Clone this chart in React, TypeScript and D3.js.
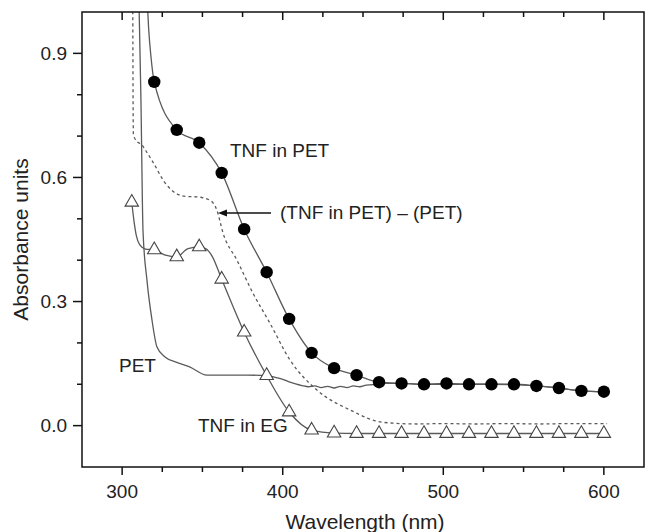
import React, { useEffect, useRef } from 'react';
import * as d3 from 'd3';

// marker wavelengths (nm)
const markerNm = [306, 320, 334, 348, 362, 376, 390, 404, 418, 432, 446, 460, 474, 488, 502, 516, 530, 544, 558, 572, 586, 600];

// TNF in PET (filled circles), starts at 320 nm
const tnfPetValues = [0.831, 0.715, 0.684, 0.611, 0.475, 0.371, 0.258, 0.176, 0.139, 0.122, 0.105, 0.102, 0.1, 0.102, 0.1, 0.1, 0.1, 0.096, 0.091, 0.084, 0.082];
// steep rise of the TNF in PET trace above the first marker
const tnfPetRise = [[315.2, 1.06], [316.5, 0.96], [318, 0.89]];

// TNF in EG (open triangles), starts at 306 nm
const tnfEgValues = [0.54, 0.425, 0.408, 0.432, 0.354, 0.226, 0.121, 0.033, -0.011, -0.018, -0.019, -0.019, -0.019, -0.019, -0.019, -0.019, -0.019, -0.019, -0.019, -0.019, -0.019, -0.019];
// extra trace points of the TNF in EG curve between markers
const tnfEgExtra = [[307.2, 0.5], [308.8, 0.46], [311, 0.437], [314.5, 0.427], [327, 0.412], [341, 0.428], [352, 0.428], [356, 0.41]];

// PET trace
const petTrace = [
  [310.3, 1.06], [311.7, 0.79], [313, 0.47], [315.5, 0.35], [318.6, 0.255], [321.7, 0.19], [326.7, 0.166],
  [334, 0.153], [342, 0.142], [352.8, 0.122], [365, 0.122], [378, 0.122], [390, 0.121], [396, 0.116],
  [400, 0.112], [404, 0.106], [408, 0.101], [412, 0.097], [416, 0.094], [420, 0.096], [424, 0.092],
  [428, 0.095], [432, 0.091], [436, 0.095], [440, 0.092], [444, 0.096], [448, 0.094], [452, 0.098],
  [456, 0.099], [460, 0.102], [474, 0.102], [488, 0.1], [502, 0.1], [516, 0.1], [530, 0.1], [544, 0.099],
  [558, 0.096], [572, 0.091], [586, 0.084], [600, 0.082],
];

// (TNF in PET) - (PET) difference trace
const diffTrace = [
  [306.6, 1.06], [306.8, 0.8], [307, 0.705], [308.5, 0.69], [312.4, 0.678], [315.5, 0.66], [319.2, 0.637],
  [326.7, 0.587], [334.2, 0.56], [340, 0.554], [346.6, 0.553], [354.7, 0.545], [359, 0.521], [362.8, 0.466],
  [371.5, 0.4], [381.5, 0.32], [392, 0.248], [404.5, 0.159], [421.3, 0.086], [441.9, 0.038], [462.4, 0.008],
  [483.6, 0.004], [500, 0.005], [520, 0.004], [540, 0.005], [560, 0.004], [580, 0.005], [602, 0.005],
];

const yTickLabels = ['0.0', '0.3', '0.6', '0.9'];

const W = 645;
const H = 532;

export default function App() {
  const svgRef = useRef<SVGSVGElement>(null);

  useEffect(() => {
    const svg = d3.select(svgRef.current);
    svg.selectAll('*').remove();

    const left = 82, right = 644, top = 12, bottom = 467;
    const x = d3.scaleLinear().domain([275, 625]).range([left, right]);
    const y = d3.scaleLinear().domain([-0.1, 1.0]).range([bottom, top]);
    const font = 'Liberation Sans, Arial, Helvetica, sans-serif';
    const textColor = '#222';
    const lineColor = '#5a5a5a';

    svg.append('rect').attr('width', W).attr('height', H).attr('fill', '#fff');

    svg.append('defs').append('clipPath').attr('id', 'plotclip')
      .append('rect').attr('x', left).attr('y', top).attr('width', right - left).attr('height', bottom - top);

    const plot = svg.append('g').attr('clip-path', 'url(#plotclip)');
    const line = d3.line<number[]>().x((d) => x(d[0])).y((d) => y(d[1])).curve(d3.curveMonotoneX);

    // PET
    plot.append('path').datum(petTrace).attr('d', line)
      .attr('fill', 'none').attr('stroke', lineColor).attr('stroke-width', 1.3);

    // difference (dashed)
    plot.append('path').datum(diffTrace).attr('d', line)
      .attr('fill', 'none').attr('stroke', lineColor).attr('stroke-width', 1.3).attr('stroke-dasharray', '3,3');

    // TNF in EG
    const egPoints = markerNm.map((n, i) => [n, tnfEgValues[i]]).concat(tnfEgExtra).sort((a, b) => a[0] - b[0]);
    plot.append('path').datum(egPoints).attr('d', line)
      .attr('fill', 'none').attr('stroke', lineColor).attr('stroke-width', 1.3);

    // TNF in PET
    const petMarkers = markerNm.slice(1).map((n, i) => [n, tnfPetValues[i]]);
    plot.append('path').datum(tnfPetRise.concat(petMarkers)).attr('d', line)
      .attr('fill', 'none').attr('stroke', lineColor).attr('stroke-width', 1.3);

    const tri = d3.symbol().type(d3.symbolTriangle).size(78);
    plot.selectAll('.tri').data(markerNm.map((n, i) => [n, tnfEgValues[i]])).enter()
      .append('path')
      .attr('transform', (d) => `translate(${x(d[0])},${y(d[1])})`)
      .attr('d', tri)
      .attr('fill', '#fff').attr('stroke', '#444').attr('stroke-width', 1.1);

    plot.selectAll('.dot').data(petMarkers).enter()
      .append('circle')
      .attr('cx', (d) => x(d[0])).attr('cy', (d) => y(d[1])).attr('r', 6.2)
      .attr('fill', '#000');

    // frame
    svg.append('rect').attr('x', left).attr('y', top).attr('width', right - left).attr('height', bottom - top)
      .attr('fill', 'none').attr('stroke', '#111').attr('stroke-width', 1.5);

    // x ticks (bottom outward, top inward)
    const xTicks = d3.range(300, 625, 25);
    xTicks.forEach((t) => {
      const major = t % 100 === 0;
      const len = major ? 8 : 5;
      svg.append('line').attr('x1', x(t)).attr('x2', x(t)).attr('y1', bottom).attr('y2', bottom + len)
        .attr('stroke', '#111').attr('stroke-width', 1.5);
      svg.append('line').attr('x1', x(t)).attr('x2', x(t)).attr('y1', top).attr('y2', top + len)
        .attr('stroke', '#111').attr('stroke-width', 1.5);
      if (major) {
        svg.append('text').attr('x', x(t)).attr('y', bottom + 31).attr('text-anchor', 'middle')
          .attr('font-family', font).attr('font-size', 19).attr('fill', textColor).text(String(t));
      }
    });

    // y ticks (left outward)
    const yTicks = d3.range(0, 10).map((i) => i / 10);
    yTicks.forEach((t, i) => {
      const major = i % 3 === 0;
      const len = major ? 9 : 5;
      svg.append('line').attr('x1', left - len).attr('x2', left).attr('y1', y(t)).attr('y2', y(t))
        .attr('stroke', '#111').attr('stroke-width', 1.5);
      if (major) {
        svg.append('text').attr('x', left - 15).attr('y', y(t)).attr('dy', '0.35em').attr('text-anchor', 'end')
          .attr('font-family', font).attr('font-size', 19).attr('fill', textColor).text(yTickLabels[i / 3]);
      }
    });

    // axis titles
    svg.append('text').attr('x', (left + right) / 2 + 2).attr('y', 529).attr('text-anchor', 'middle')
      .attr('font-family', font).attr('font-size', 21).attr('fill', textColor).text('Wavelength (nm)');
    svg.append('text').attr('transform', `translate(28,${(top + bottom) / 2}) rotate(-90)`).attr('text-anchor', 'middle')
      .attr('font-family', font).attr('font-size', 21).attr('fill', textColor).text('Absorbance units');

    // annotations
    const note = (tx: number, ty: number, s: string) =>
      svg.append('text').attr('x', tx).attr('y', ty).attr('font-family', font).attr('font-size', 19)
        .attr('fill', textColor).text(s);
    note(230, 157, 'TNF in PET');
    note(280, 219, '(TNF in PET) \u2013 (PET)');
    note(119, 372, 'PET');
    note(198, 432, 'TNF in EG');

    // arrow
    const ay = 213;
    svg.append('line').attr('x1', 271).attr('x2', 224).attr('y1', ay).attr('y2', ay)
      .attr('stroke', '#111').attr('stroke-width', 1.3);
    svg.append('path').attr('d', `M218,${ay} L227,${ay - 3.5} L227,${ay + 3.5} Z`).attr('fill', '#111');
  }, []);

  return (
    <svg ref={svgRef} width={W} height={H} style={{ position: 'absolute', left: 0, top: 0 }} />
  );
}
